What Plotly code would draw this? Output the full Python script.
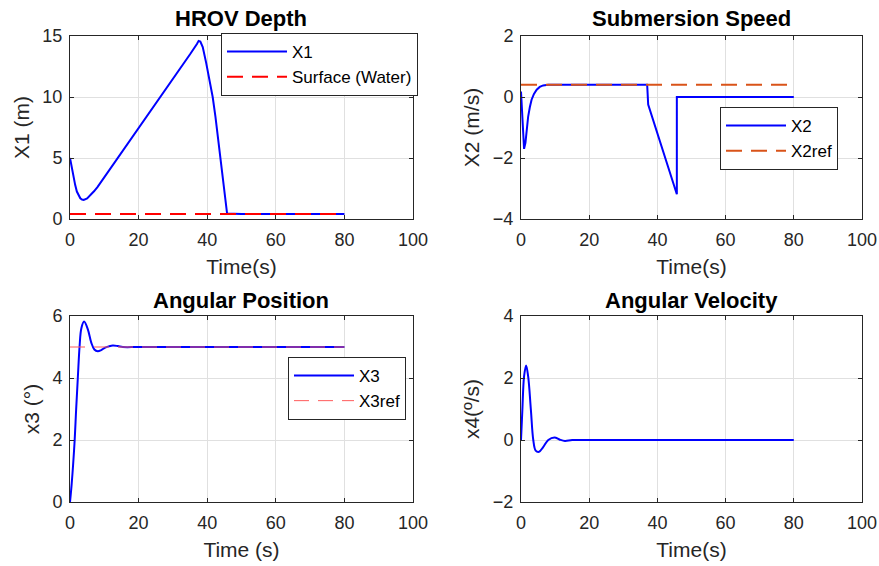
import plotly.graph_objects as go

# ---------------- data ----------------
t_x1 = [0, 0.5, 1, 1.5, 2, 2.5, 3, 3.5, 4, 5, 6, 7, 8, 10, 12, 14, 16, 20, 24, 28, 32, 35, 37, 37.5,
        38, 38.7, 39.7, 40.6, 41.6, 42.4, 43.1, 43.8, 44.5, 45.2, 45.8, 50, 60, 70, 80]
x1 = [5.0, 4.2, 3.5, 2.8, 2.25, 1.9, 1.7, 1.6, 1.57, 1.68, 1.95, 2.27, 2.62, 3.42, 4.24, 5.07, 5.9,
      7.5, 9.1, 10.7, 12.3, 13.5, 14.35, 14.6, 14.55, 14.1, 12.8, 11.5, 10.0, 8.4, 6.7, 4.9, 3.15,
      1.6, 0.45, 0.4, 0.4, 0.4, 0.4]
t_surface = [0, 80]
surface = [0.4, 0.4]

t_x2 = [0, 0.2, 0.6, 0.9, 1.3, 1.7, 2.1, 2.6, 3.1, 3.8, 4.6, 5.5, 6.5, 8, 10, 20, 30, 37.0, 37.3,
        45.7, 45.7, 50, 60, 70, 80]
x2 = [0.18, -0.31, -1.3, -1.7, -1.5, -1.05, -0.64, -0.33, -0.09, 0.1, 0.24, 0.33, 0.38, 0.4, 0.4,
      0.4, 0.4, 0.4, -0.25, -3.19, 0.0, 0.0, 0.0, 0.0, 0.0]
t_x2ref = [0, 80]
x2ref = [0.4, 0.4]

t_x3 = [0, 0.5, 1.3, 1.8, 2.3, 2.8, 3.3, 4.1, 5.2, 6.2, 7.1, 8.1, 9.1, 10.1, 11.3, 12.5, 14, 15.4,
        20, 40, 60, 80]
x3 = [0, 0.6, 1.88, 3.0, 4.05, 5.03, 5.6, 5.82, 5.57, 5.14, 4.92, 4.86, 4.9, 4.97, 5.02, 5.05,
      5.03, 5.0, 5.0, 5.0, 5.0, 5.0]
t_x3ref = [0, 80]
x3ref = [5.0, 5.0]

t_x4 = [0, 0.4, 0.9, 1.5, 2.1, 2.9, 3.6, 4.3, 5.3, 6.5, 8.0, 9.8, 11.4, 12.9, 15, 20, 40, 60, 80]
x4 = [0, 0.97, 2.05, 2.4, 2.05, 0.97, 0.0, -0.34, -0.38, -0.23, 0.0, 0.08, 0.01, -0.03, 0.0, 0.0,
      0.0, 0.0, 0.0]

x_ticks = [0, 20, 40, 60, 80, 100]

# ---------------- layout helpers ----------------
W, H = 879, 566
FONT = "Liberation Sans, Arial, sans-serif"
AX = "#262626"
GRID = "#e0e0e0"
TICK_SIZE = 18
LABEL_SIZE = 21
TITLE_SIZE = 22
LEG_SIZE = 17


def px_x(p):
    return p / W


def px_y(p):
    return 1 - p / H


left_dom = [px_x(70), px_x(413)]
right_dom = [px_x(521), px_x(862)]
top_dom = [px_y(219), px_y(36)]
bot_dom = [px_y(502), px_y(316)]

fig = go.Figure()

BLUE = "#0000FF"
RED = "#FF0000"
ORANGE = "#D95319"

fig.add_trace(go.Scatter(x=t_x1, y=x1, mode="lines", name="X1", line=dict(color=BLUE, width=2),
                         xaxis="x", yaxis="y", legend="legend"))
fig.add_trace(go.Scatter(x=t_surface, y=surface, mode="lines", name="Surface (Water)",
                         line=dict(color=RED, width=2, dash="16px,9px"),
                         xaxis="x", yaxis="y", legend="legend"))
fig.add_trace(go.Scatter(x=t_x2, y=x2, mode="lines", name="X2", line=dict(color=BLUE, width=2),
                         xaxis="x2", yaxis="y2", legend="legend2"))
fig.add_trace(go.Scatter(x=t_x2ref, y=x2ref, mode="lines", name="X2ref",
                         line=dict(color=ORANGE, width=2, dash="16px,9px"),
                         xaxis="x2", yaxis="y2", legend="legend2"))
fig.add_trace(go.Scatter(x=t_x3, y=x3, mode="lines", name="X3", line=dict(color=BLUE, width=2),
                         line_shape="spline", xaxis="x3", yaxis="y3", legend="legend3"))
fig.add_trace(go.Scatter(x=t_x3ref, y=x3ref, mode="lines", name="X3ref",
                         line=dict(color="#FF5A5A", width=1, dash="15px,9px"),
                         xaxis="x3", yaxis="y3", legend="legend3"))
fig.add_trace(go.Scatter(x=t_x4, y=x4, mode="lines", name="x4", line=dict(color=BLUE, width=2),
                         line_shape="spline", xaxis="x4", yaxis="y4", showlegend=False))


def xaxis(dom, anchor, title):
    return dict(domain=dom, anchor=anchor, range=[0, 100], tickvals=x_ticks,
                showline=True, linecolor=AX, linewidth=1, mirror="ticks",
                ticks="inside", ticklen=4, tickcolor=AX, showgrid=True, gridcolor=GRID,
                zeroline=False, tickfont=dict(family=FONT, size=TICK_SIZE, color=AX),
                ticklabelstandoff=4,
                title=dict(text=title, font=dict(family=FONT, size=LABEL_SIZE, color=AX), standoff=10),
                automargin=False, fixedrange=True)


def yaxis(dom, anchor, rng, ticks, title):
    return dict(domain=dom, anchor=anchor, range=rng, tickvals=ticks,
                showline=True, linecolor=AX, linewidth=1, mirror="ticks",
                ticks="inside", ticklen=4, tickcolor=AX, showgrid=True, gridcolor=GRID,
                zeroline=False, tickfont=dict(family=FONT, size=TICK_SIZE, color=AX),
                ticklabelstandoff=3,
                title=dict(text=title, font=dict(family=FONT, size=LABEL_SIZE, color=AX), standoff=7),
                automargin=False, fixedrange=True)


def legend_box(xp, yp):
    return dict(x=px_x(xp), y=px_y(yp), xanchor="left", yanchor="top",
                bgcolor="white", bordercolor=AX, borderwidth=1,
                font=dict(family=FONT, size=LEG_SIZE, color="black"), itemwidth=60,
                tracegroupgap=0)


titles = [("HROV Depth", 241.5, 18), ("Submersion Speed", 691.5, 18),
          ("Angular Position", 241.5, 300), ("Angular Velocity", 691.5, 300)]
annotations = [dict(text=f"<b>{txt}</b>", x=px_x(xp), y=px_y(yp), xref="paper", yref="paper",
                    showarrow=False, xanchor="center", yanchor="middle",
                    font=dict(family=FONT, size=TITLE_SIZE, color="black"))
               for txt, xp, yp in titles]

fig.update_layout(
    width=W, height=H,
    margin=dict(l=0, r=0, t=0, b=0),
    paper_bgcolor="white", plot_bgcolor="white",
    xaxis=xaxis(left_dom, "y", "Time(s)"),
    yaxis=yaxis(top_dom, "x", [0, 15], [0, 5, 10, 15], "X1 (m)"),
    xaxis2=xaxis(right_dom, "y2", "Time(s)"),
    yaxis2=yaxis(top_dom, "x2", [-4, 2], [-4, -2, 0, 2], "X2 (m/s)"),
    xaxis3=xaxis(left_dom, "y3", "Time (s)"),
    yaxis3=yaxis(bot_dom, "x3", [0, 6], [0, 2, 4, 6], "x3 (°)"),
    xaxis4=xaxis(right_dom, "y4", "Time(s)"),
    yaxis4=yaxis(bot_dom, "x4", [-2, 4], [-2, 0, 2, 4], "x4(º/s)"),
    legend=legend_box(221, 33),
    legend2=legend_box(720, 107),
    legend3=legend_box(288, 357),
    annotations=annotations,
    showlegend=True,
)

fig.write_html("out.html", post_script="document.body.style.margin='0';",
               config={"displayModeBar": False})
